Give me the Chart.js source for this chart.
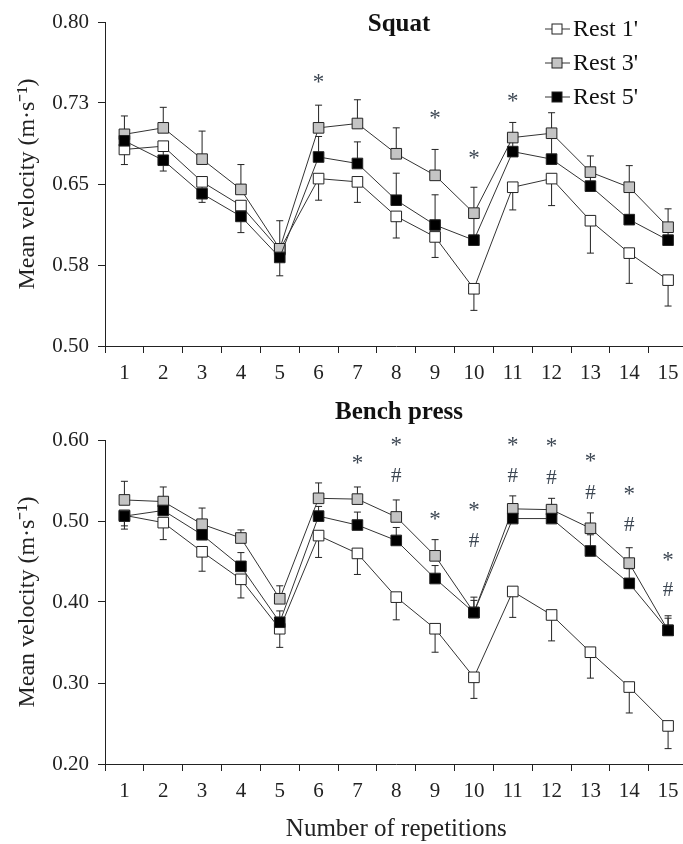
<!DOCTYPE html>
<html>
<head>
<meta charset="utf-8">
<script src="https://cdn.jsdelivr.net/npm/chart.js@4.4.1/dist/chart.umd.min.js"></script>
<style>
html, body { margin: 0; padding: 0; background: #fff; overflow: hidden; }
#wrap { width: 683px; height: 844px; position: relative; overflow: hidden; }
canvas { position: absolute; left: 0; }
#squat { top: 0; }
#bench { top: 400px; }
</style>
</head>
<body>
<div id="wrap">
  <canvas id="squat" width="696" height="400"></canvas>
  <canvas id="bench" width="696" height="444"></canvas>
</div>
<script>
var reps = ['1', '2', '3', '4', '5', '6', '7', '8', '9', '10', '11', '12', '13', '14', '15'];
var seriesNames = ["Rest 1'", "Rest 3'", "Rest 5'"];

// squat, mean velocity per repetition
var squat1 = [0.682, 0.685, 0.652, 0.630, 0.589, 0.655, 0.652, 0.620, 0.601, 0.553, 0.647, 0.655, 0.616, 0.586, 0.561];
var squat3 = [0.696, 0.702, 0.673, 0.645, 0.590, 0.702, 0.706, 0.678, 0.658, 0.623, 0.693, 0.697, 0.661, 0.647, 0.610];
var squat5 = [0.690, 0.672, 0.641, 0.620, 0.582, 0.675, 0.669, 0.635, 0.612, 0.598, 0.680, 0.673, 0.648, 0.617, 0.598];
// SD, sign = side the bar is drawn on (+ up, - down)
var squatSd1 = [-0.014, -0.010, -0.010, -0.010, -0.010, -0.020, -0.019, -0.020, -0.019, -0.020, -0.021, -0.025, -0.030, -0.028, -0.024];
var squatSd3 = [0.017, 0.019, 0.026, 0.023, 0.026, 0.021, 0.022, 0.024, 0.024, 0.024, 0.014, 0.019, 0.015, 0.020, 0.017];
var squatSd5 = [-0.012, -0.010, -0.008, -0.015, -0.017, 0.019, 0.020, 0.025, 0.028, 0.020, 0.015, 0.020, 0.015, 0.027, 0.015];
var squatStarReps = ['6', '9', '10', '11'];
var squatStarAt = [0.748, 0.714, 0.677, 0.730];
var squatTicks = ['0.50', '0.58', '0.65', '0.73', '0.80'];

// bench press
var bench1 = [0.507, 0.498, 0.462, 0.428, 0.367, 0.482, 0.460, 0.406, 0.367, 0.307, 0.413, 0.384, 0.338, 0.295, 0.247];
var bench3 = [0.526, 0.524, 0.496, 0.479, 0.404, 0.528, 0.527, 0.505, 0.457, 0.387, 0.515, 0.514, 0.491, 0.448, 0.365];
var bench5 = [0.506, 0.513, 0.483, 0.444, 0.375, 0.506, 0.495, 0.476, 0.429, 0.387, 0.503, 0.503, 0.463, 0.423, 0.365];
var benchSd1 = [-0.017, -0.021, -0.024, -0.023, -0.023, -0.027, -0.026, -0.028, -0.029, -0.026, -0.032, -0.032, -0.032, -0.032, -0.028];
var benchSd3 = [0.023, 0.018, 0.020, 0.010, 0.016, 0.019, 0.015, 0.021, 0.020, 0.019, 0.016, 0.014, 0.019, 0.019, 0.018];
var benchSd5 = [-0.012, 0.012, 0.012, 0.017, 0.014, 0.012, 0.016, 0.016, 0.016, 0.015, 0.012, 0.012, 0.020, 0.018, 0.015];
var benchStarReps = ['7', '8', '9', '10', '11', '12', '13', '14', '15'];
var benchStarAt = [0.576, 0.598, 0.507, 0.518, 0.598, 0.597, 0.579, 0.538, 0.456];
var benchHashReps = ['8', '10', '11', '12', '13', '14', '15'];
var benchHashAt = [0.557, 0.476, 0.557, 0.554, 0.536, 0.496, 0.416];
var benchTicks = ['0.20', '0.30', '0.40', '0.50', '0.60'];

var FONT = '"Liberation Serif", "Times New Roman", serif';
Chart.defaults.font.family = FONT;
Chart.defaults.color = '#222';

var fills = ['#ffffff', '#c4c4c4', '#000000'];

function makeSets(v1, v3, v5) {
  return [v1, v3, v5].map(function(v, i) {
    return {
      label: seriesNames[i],
      data: v,
      order: 2 - i,
      borderColor: '#333',
      borderWidth: 1,
      pointStyle: 'rect',
      pointRadius: 7.5,
      pointHoverRadius: 7.5,
      pointBorderWidth: 1,
      pointBorderColor: '#222',
      pointBackgroundColor: fills[i],
      tension: 0
    };
  });
}

function centerText(ctx, txt, x, y) {
  var m = ctx.measureText(txt);
  ctx.fillText(txt, x, y + (m.actualBoundingBoxAscent - m.actualBoundingBoxDescent) / 2);
}

var marks = {
  id: 'marks',
  beforeDatasetsDraw: function(chart, args, o) {
    var ctx = chart.ctx, ys = chart.scales.y;
    ctx.save();
    ctx.strokeStyle = '#222';
    ctx.lineWidth = 1;
    o.sd.forEach(function(sd, i) {
      var meta = chart.getDatasetMeta(i);
      var vals = chart.data.datasets[i].data;
      meta.data.forEach(function(pt, j) {
        var y2 = ys.getPixelForValue(vals[j] + sd[j]);
        ctx.beginPath();
        ctx.moveTo(pt.x, pt.y);
        ctx.lineTo(pt.x, y2);
        ctx.moveTo(pt.x - 3.5, y2);
        ctx.lineTo(pt.x + 3.5, y2);
        ctx.stroke();
      });
    });
    ctx.restore();
  },
  afterDatasetsDraw: function(chart, args, o) {
    var ctx = chart.ctx, xs = chart.scales.x, ys = chart.scales.y;
    ctx.save();
    ctx.textAlign = 'center';
    ctx.textBaseline = 'alphabetic';
    ctx.fillStyle = '#3c4652';
    ctx.font = '23px ' + FONT;
    o.stars.reps.forEach(function(r, k) {
      centerText(ctx, '*', xs.getPixelForValue(reps.indexOf(r)), ys.getPixelForValue(o.stars.at[k]));
    });
    if (o.hashes) {
      ctx.font = '21px ' + FONT;
      o.hashes.reps.forEach(function(r, k) {
        centerText(ctx, '#', xs.getPixelForValue(reps.indexOf(r)), ys.getPixelForValue(o.hashes.at[k]));
      });
    }
    ctx.restore();
  },
  afterDraw: function(chart, args, o) {
    var ctx = chart.ctx;
    ctx.save();
    ctx.fillStyle = '#111';
    ctx.textAlign = 'center';
    ctx.textBaseline = 'middle';
    ctx.font = 'bold 25px ' + FONT;
    ctx.fillText(o.title, o.titleX, o.titleY);
    if (o.legend) {
      ctx.textAlign = 'left';
      ctx.font = '24px ' + FONT;
      chart.data.datasets.forEach(function(ds, i) {
        var y = 29 + i * 34;
        ctx.strokeStyle = '#333';
        ctx.lineWidth = 1;
        ctx.beginPath();
        ctx.moveTo(545, y);
        ctx.lineTo(570, y);
        ctx.stroke();
        ctx.fillStyle = ds.pointBackgroundColor;
        ctx.fillRect(552, y - 5, 10, 10);
        ctx.strokeStyle = '#222';
        ctx.strokeRect(552, y - 5, 10, 10);
        ctx.fillStyle = '#111';
        ctx.fillText(ds.label, 573, y + 1);
      });
    }
    ctx.restore();
  }
};

function makeChart(id, sets, yMin, yMax, step, tickLabels, xHeight, padTop, xTitle, markOpts) {
  return new Chart(document.getElementById(id), {
    type: 'line',
    data: { labels: reps, datasets: sets },
    plugins: [marks],
    options: {
      responsive: false,
      animation: false,
      events: [],
      layout: { padding: { top: padTop, left: 13, right: 0, bottom: 0 } },
      plugins: {
        legend: { display: false },
        tooltip: { enabled: false },
        marks: markOpts
      },
      scales: {
        x: {
          type: 'category',
          offset: true,
          afterFit: function(s) { s.height = xHeight; },
          grid: { offset: true, drawOnChartArea: false, drawTicks: true, tickLength: 7, color: '#222' },
          border: { display: true, color: '#222', width: 1 },
          ticks: { font: { size: 21 }, color: '#222', padding: 8, maxRotation: 0, autoSkip: false },
          title: { display: !!xTitle, text: xTitle || '', font: { size: 25 }, color: '#222', padding: 0 }
        },
        y: {
          min: yMin,
          max: yMax,
          afterFit: function(s) { s.width = 92; },
          grid: { drawOnChartArea: false, drawTicks: true, tickLength: 7, color: '#222' },
          border: { display: true, color: '#222', width: 1 },
          ticks: {
            stepSize: step,
            font: { size: 21 },
            color: '#222',
            padding: 9,
            callback: function(v, i) { return tickLabels[i]; }
          },
          title: { display: true, text: 'Mean velocity (m\u00b7s\u207b\u00b9)', font: { size: 24 }, color: '#222', padding: 0 }
        }
      }
    }
  });
}

makeChart('squat', makeSets(squat1, squat3, squat5), 0.5, 0.8, 0.075, squatTicks, 54, 22, null, {
  sd: [squatSd1, squatSd3, squatSd5],
  stars: { reps: squatStarReps, at: squatStarAt },
  title: 'Squat', titleX: 399, titleY: 25, legend: true
});

makeChart('bench', makeSets(bench1, bench3, bench5), 0.2, 0.6, 0.1, benchTicks, 80, 40, 'Number of repetitions', {
  sd: [benchSd1, benchSd3, benchSd5],
  stars: { reps: benchStarReps, at: benchStarAt },
  hashes: { reps: benchHashReps, at: benchHashAt },
  title: 'Bench press', titleX: 399, titleY: 13, legend: false
});
</script>
</body>
</html>
